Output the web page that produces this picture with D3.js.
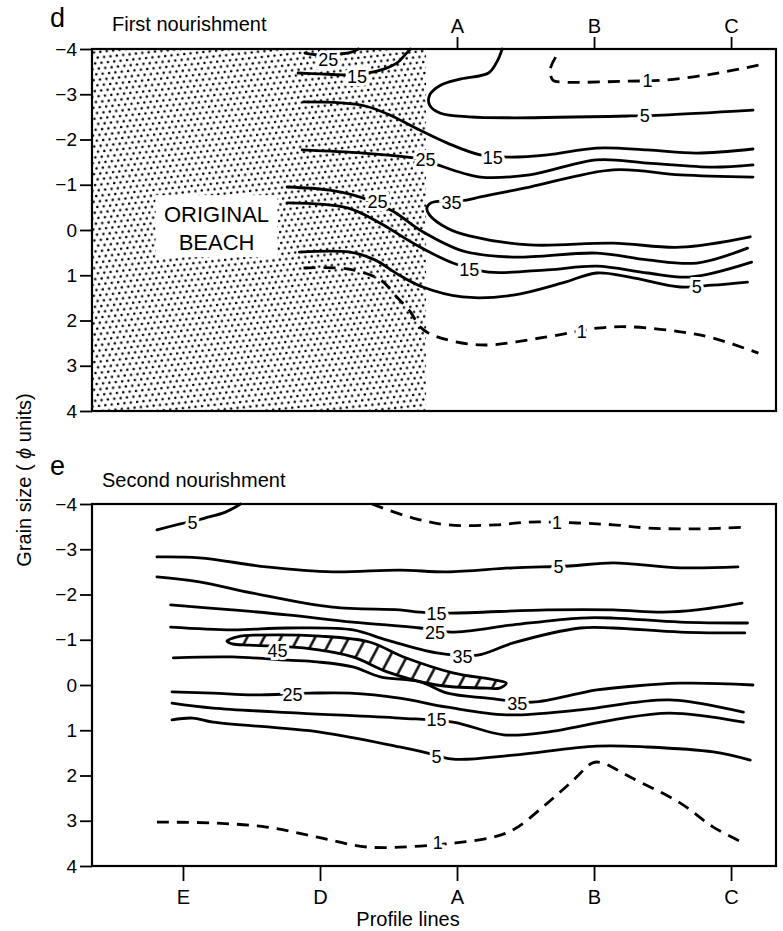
<!DOCTYPE html>
<html><head><meta charset="utf-8">
<script src="https://cdn.jsdelivr.net/npm/d3@7"></script>
<style>
body{margin:0;background:#fff;}
svg{display:block;font-family:"Liberation Sans",Arial,Helvetica,sans-serif;}
</style></head><body>
<svg id="chart" width="783" height="931"></svg>
<script>
// ---------- axis data ----------
const profileNames = ["E","D","A","B","C"];
const profilePos   = [0,1,2,3,4];
const topProfilePos = [2,3,4];
const grainTicks = [-4,-3,-2,-1,0,1,2,3,4];
const profileExtent = [-0.664, 4.328];
const grainExtent = [-4, 4];

// original beach (stippled) extent, in profile units
const beachEdge = 1.774;
const beachBox = [[-0.20,-0.77],[0.69,0.60]];

// ---------- panel d : first nourishment, contours [profile, phi] ----------
const d1Up   = [[2.72,-3.82],[2.68,-3.54],[2.70,-3.31],[2.77,-3.27],[3.26,-3.29],[3.50,-3.31],[3.87,-3.45],[4.21,-3.65]];
const d5Up   = [[2.33,-4.00],[2.29,-3.71],[2.23,-3.47],[2.03,-3.34],[1.88,-3.20],[1.80,-2.98],[1.80,-2.76],[1.88,-2.58],[2.09,-2.50],[2.41,-2.48],[3.26,-2.52],[3.50,-2.54],[4.16,-2.65]];
const d15Up  = [[0.88,-2.83],[1.15,-2.81],[1.33,-2.74],[1.51,-2.54],[1.68,-2.28],[1.93,-1.92],[2.17,-1.66],[2.39,-1.61],[2.66,-1.66],[3.02,-1.81],[3.39,-1.77],[3.75,-1.70],[4.16,-1.79]];
const d25Up  = [[0.87,-1.77],[1.31,-1.70],[1.64,-1.61],[1.77,-1.55],[1.86,-1.44],[2.17,-1.17],[2.53,-1.22],[3.02,-1.55],[3.39,-1.48],[3.87,-1.39],[4.16,-1.44]];
const d35    = [[4.16,-1.17],[3.63,-1.22],[3.14,-1.33],[2.53,-0.95],[2.17,-0.73],[2.07,-0.66],[1.88,-0.64],[1.81,-0.60],[1.78,-0.49],[1.80,-0.33],[1.93,-0.04],[2.09,0.13],[2.53,0.33],[3.14,0.29],[3.63,0.38],[4.14,0.15]];
const d25Low = [[0.76,-0.95],[1.07,-0.88],[1.31,-0.71],[1.53,-0.42],[1.75,0.04],[2.04,0.46],[2.41,0.60],[3.02,0.51],[3.39,0.66],[3.75,0.73],[4.12,0.40]];
const d15Low = [[0.76,-0.60],[1.20,-0.49],[1.44,-0.15],[1.68,0.29],[1.97,0.73],[2.23,0.93],[2.66,0.88],[3.02,0.80],[3.39,0.95],[3.70,1.04],[4.15,0.71]];
const d5Low  = [[0.85,0.49],[1.22,0.49],[1.40,0.66],[1.58,1.00],[1.75,1.26],[2.04,1.48],[2.41,1.44],[2.77,1.17],[3.02,0.95],[3.26,1.04],[3.63,1.26],[3.86,1.22],[4.12,1.15]];
const d1Low  = [[0.88,0.84],[1.20,0.86],[1.44,1.10],[1.56,1.48],[1.66,1.81],[1.73,2.14],[1.82,2.32],[2.17,2.54],[2.66,2.36],[3.02,2.17],[3.26,2.14],[3.63,2.25],[3.87,2.39],[4.20,2.72]];
const d15Top = [[0.84,-3.47],[1.00,-3.45],[1.18,-3.43],[1.35,-3.47],[1.47,-3.56],[1.57,-3.71],[1.62,-3.87],[1.66,-4.00]];
const d25Top = [[0.89,-3.91],[0.99,-3.87],[1.15,-3.89],[1.23,-3.93],[1.28,-4.00]];

const firstLevels   = [1,5,15,25,35,25,15,5,1,15,25];
const firstContours = [d1Up,d5Up,d15Up,d25Up,d35,d25Low,d15Low,d5Low,d1Low,d15Top,d25Top];
// labels: [text, profile, phi]
const firstLabels = [["25",1.06,-3.76],["15",1.27,-3.40],["1",3.39,-3.31],["5",3.37,-2.52],["15",2.26,-1.61],["25",1.77,-1.55],["35",1.96,-0.60],["25",1.42,-0.62],["15",2.09,0.88],["5",3.75,1.26],["1",2.91,2.25]];

// ---------- panel e : second nourishment ----------
const e5Top  = [[-0.19,-3.43],[-0.02,-3.56],[0.16,-3.69],[0.31,-3.82],[0.42,-4.00]];
const e1Up   = [[1.38,-4.00],[1.44,-3.93],[1.68,-3.69],[1.93,-3.54],[2.29,-3.54],[2.53,-3.60],[2.88,-3.58],[3.14,-3.54],[3.39,-3.47],[3.75,-3.45],[4.12,-3.49]];
const e5Up   = [[-0.19,-2.83],[0.12,-2.81],[0.61,-2.61],[1.09,-2.50],[1.58,-2.54],[1.93,-2.50],[2.41,-2.59],[2.82,-2.63],[3.14,-2.70],[3.63,-2.59],[4.05,-2.61]];
const e15Up  = [[-0.19,-2.39],[0.12,-2.28],[0.51,-2.03],[1.09,-1.72],[1.58,-1.66],[1.73,-1.61],[1.95,-1.59],[2.66,-1.66],[3.14,-1.66],[3.50,-1.61],[3.75,-1.66],[4.08,-1.81]];
const e25Up  = [[-0.09,-1.77],[0.36,-1.66],[0.76,-1.55],[1.24,-1.39],[1.73,-1.26],[1.96,-1.17],[2.41,-1.33],[2.90,-1.48],[3.14,-1.48],[3.63,-1.39],[4.12,-1.37]];
const e35Up  = [[-0.09,-1.28],[0.36,-1.22],[0.76,-1.26],[1.24,-1.22],[1.49,-0.99],[1.85,-0.71],[2.15,-0.66],[2.41,-0.93],[2.90,-1.26],[3.14,-1.26],[3.63,-1.17],[4.10,-1.15]];
const e45    = [[0.32,-0.97],[0.42,-1.08],[0.51,-1.10],[1.00,-1.08],[1.36,-0.95],[1.61,-0.62],[1.97,-0.27],[2.28,-0.11],[2.36,-0.04],[2.31,0.07],[2.22,0.07],[1.85,0.00],[1.49,-0.29],[1.24,-0.62],[0.88,-0.82],[0.49,-0.88],[0.36,-0.91]];
const e35Low = [[-0.07,-0.60],[0.36,-0.62],[0.76,-0.55],[0.98,-0.51],[1.24,-0.40],[1.44,-0.18],[1.73,-0.07],[1.93,0.18],[2.22,0.29],[2.55,0.38],[2.90,0.18],[3.02,0.11],[3.63,-0.04],[4.16,0.00]];
const e25Low = [[-0.08,0.15],[0.22,0.18],[0.51,0.22],[0.93,0.18],[1.22,0.18],[1.58,0.29],[1.93,0.49],[2.36,0.66],[2.90,0.55],[3.55,0.33],[4.09,0.60]];
const e15Low = [[-0.08,0.40],[0.22,0.51],[0.85,0.62],[1.58,0.73],[1.97,0.82],[2.34,1.10],[2.66,1.04],[3.14,0.77],[3.55,0.62],[4.09,0.82]];
const e5Low  = [[-0.08,0.77],[0.07,0.73],[0.22,0.82],[1.00,1.04],[1.58,1.37],[1.75,1.48],[1.97,1.64],[2.41,1.55],[3.02,1.35],[3.39,1.37],[3.87,1.48],[4.14,1.66]];
const e1Low  = [[-0.19,3.03],[0.22,3.05],[0.61,3.14],[0.98,3.36],[1.34,3.58],[1.73,3.56],[1.99,3.49],[2.24,3.38],[2.41,3.20],[2.66,2.61],[2.85,2.10],[2.99,1.72],[3.06,1.72],[3.26,2.03],[3.63,2.61],[3.87,3.14],[4.09,3.49]];

const secondLevels   = [5,1,5,15,25,35,35,25,15,5,1];
const secondContours = [e5Top,e1Up,e5Up,e15Up,e25Up,e35Up,e35Low,e25Low,e15Low,e5Low,e1Low];
const secondPeak = e45; // 45 % area, hatched
const secondLabels = [["5",0.07,-3.60],["1",2.73,-3.60],["5",2.74,-2.61],["15",1.85,-1.59],["25",1.84,-1.17],["35",2.04,-0.62],["45",0.69,-0.77],["35",2.44,0.40],["25",0.80,0.22],["15",1.85,0.77],["5",1.85,1.59],["1",1.86,3.49]];

// ---------- drawing ----------
const svg = d3.select("#chart");
const L = 92, R = 776;
const panels = [
  {top:49,  bottom:411, letter:"d", title:"First nourishment",  levels:firstLevels,  contours:firstContours,  labels:firstLabels,  beach:true},
  {top:504, bottom:866, letter:"e", title:"Second nourishment", levels:secondLevels, contours:secondContours, labels:secondLabels, peak:secondPeak}
];
const x = d3.scaleLinear().domain(profileExtent).range([L,R]);

const defs = svg.append("defs");
const stip = defs.append("pattern").attr("id","stip").attr("patternUnits","userSpaceOnUse")
  .attr("width",6.4).attr("height",11).attr("patternTransform","rotate(-6)");
stip.append("circle").attr("cx",1.6).attr("cy",1.4).attr("r",1.25).attr("fill","#000");
stip.append("circle").attr("cx",4.8).attr("cy",6.9).attr("r",1.25).attr("fill","#000");
const hatch = defs.append("pattern").attr("id","hatch").attr("patternUnits","userSpaceOnUse")
  .attr("width",15).attr("height",15).attr("patternTransform","rotate(28)");
hatch.append("line").attr("x1",7.5).attr("x2",7.5).attr("y1",0).attr("y2",15).attr("stroke","#000").attr("stroke-width",2.4);

const fmtGrain = d => d < 0 ? "\u2212" + Math.abs(d) : String(d);

panels.forEach((p, i) => {
  const y = d3.scaleLinear().domain(grainExtent).range([p.top, p.bottom]);
  const g = svg.append("g");
  const line = d3.line().x(d => x(d[0])).y(d => y(d[1])).curve(d3.curveCatmullRom.alpha(0.5));

  if (p.beach) {
    g.append("rect").attr("x", x(profileExtent[0])).attr("y", y(-4))
      .attr("width", x(beachEdge) - x(profileExtent[0])).attr("height", y(4) - y(-4))
      .attr("fill","url(#stip)");
    g.append("rect").attr("x", x(beachBox[0][0])).attr("y", y(beachBox[0][1]))
      .attr("width", x(beachBox[1][0]) - x(beachBox[0][0])).attr("height", y(beachBox[1][1]) - y(beachBox[0][1]))
      .attr("fill","#fff");
    const cx = (x(beachBox[0][0]) + x(beachBox[1][0])) / 2;
    g.append("text").attr("x",cx).attr("y", y(beachBox[0][1]) + 27).attr("text-anchor","middle")
      .attr("font-size",22).text("ORIGINAL");
    g.append("text").attr("x",cx).attr("y", y(beachBox[0][1]) + 55).attr("text-anchor","middle")
      .attr("font-size",22).text("BEACH");
  }

  if (p.peak) {
    g.append("path").attr("d", d3.line().x(d=>x(d[0])).y(d=>y(d[1])).curve(d3.curveCatmullRomClosed.alpha(0.5))(p.peak))
      .attr("fill","url(#hatch)").attr("stroke","#000").attr("stroke-width",2.8);
  }

  p.contours.forEach((c, k) => {
    const dashed = p.levels[k] === 1;
    g.append("path").attr("d", line(c)).attr("fill","none").attr("stroke","#000")
      .attr("stroke-width", 2.8).attr("stroke-linecap", dashed ? "butt" : "round")
      .attr("stroke-dasharray", dashed ? "12,8" : null);
  });

  g.selectAll("text.lab").data(p.labels).enter().append("text").attr("class","lab")
    .attr("x", d => x(d[1])).attr("y", d => y(d[2])).attr("dy","0.36em")
    .attr("text-anchor","middle").attr("font-size",18)
    .attr("stroke","#fff").attr("stroke-width",6).attr("paint-order","stroke").attr("fill","#000")
    .text(d => d[0]);

  // frame
  g.append("rect").attr("x",L).attr("y",p.top).attr("width",R-L).attr("height",p.bottom-p.top)
    .attr("fill","none").attr("stroke","#000").attr("stroke-width",2.2);

  // y axis
  const ya = g.append("g").attr("transform",`translate(${L},0)`)
    .call(d3.axisLeft(y).tickValues(grainTicks).tickFormat(fmtGrain).tickSize(12).tickSizeOuter(0).tickPadding(3));
  ya.select(".domain").remove();
  ya.selectAll(".tick line").attr("stroke-width",1.8);
  ya.selectAll(".tick text").attr("font-size",19).attr("font-family","Liberation Sans, Arial, sans-serif").attr("fill","#000");

  // x axis
  if (i === 0) {
    const xa = g.append("g").attr("transform",`translate(0,${p.top})`)
      .call(d3.axisTop(x).tickValues(topProfilePos).tickFormat(d => profileNames[profilePos.indexOf(d)]).tickSize(12).tickSizeOuter(0).tickPadding(4));
    xa.select(".domain").remove();
    xa.selectAll(".tick line").attr("stroke-width",1.8);
    xa.selectAll(".tick text").attr("font-size",20).attr("font-family","Liberation Sans, Arial, sans-serif").attr("fill","#000");
  } else {
    const xa = g.append("g").attr("transform",`translate(0,${p.bottom})`)
      .call(d3.axisBottom(x).tickValues(profilePos).tickFormat(d => profileNames[profilePos.indexOf(d)]).tickSize(15).tickSizeOuter(0).tickPadding(9));
    xa.select(".domain").remove();
    xa.selectAll(".tick line").attr("stroke-width",1.8);
    xa.selectAll(".tick text").attr("font-size",20).attr("font-family","Liberation Sans, Arial, sans-serif").attr("fill","#000");
  }

  // panel letter and title
  svg.append("text").attr("x",50).attr("y", i === 0 ? 27 : 475).attr("font-size",27).text(p.letter);
  svg.append("text").attr("x", i === 0 ? 112 : 102).attr("y", i === 0 ? 31 : 487).attr("font-size",20).text(p.title);
});

svg.append("text").attr("transform","translate(31,480) rotate(-90)").attr("text-anchor","middle")
  .attr("font-size",20).html('Grain size ( <tspan font-style="italic">\u03d5</tspan> units)');
svg.append("text").attr("x",408).attr("y",926).attr("text-anchor","middle").attr("font-size",20).text("Profile lines");
</script>
</body></html>
